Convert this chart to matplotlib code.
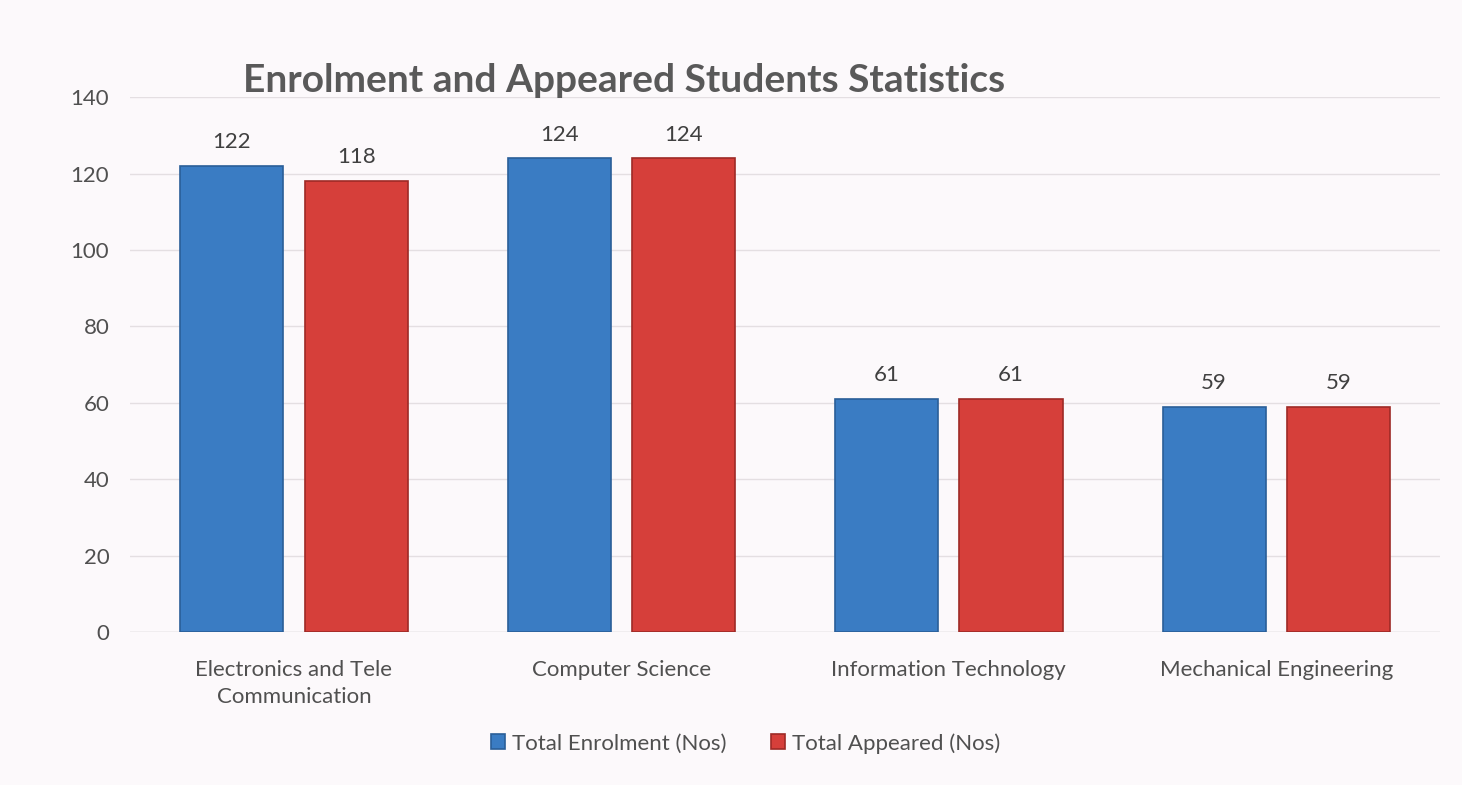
import numpy as np
import matplotlib.pyplot as plt

# Data
departments = ['Electronics and Tele\nCommunication', 'Computer Science',
               'Information Technology', 'Mechanical Engineering']
enrolment = [122, 124, 61, 59]
appeared = [118, 124, 61, 59]

plt.rcParams['font.family'] = ['Lato', 'DejaVu Sans']

fig = plt.figure(figsize=(14.62, 7.85), dpi=100, facecolor='#fcf9fb')
ax = fig.add_axes([0.089, 0.195, 0.896, 0.681])
ax.set_facecolor('#fcf9fb')

x = np.arange(len(departments))
width = 0.315
off = 0.19

b1 = ax.bar(x - off, enrolment, width, color='#3a7cc3', edgecolor='#2a5f98',
            linewidth=1.2, label='Total Enrolment (Nos)', zorder=3)
b2 = ax.bar(x + off, appeared, width, color='#d63f3a', edgecolor='#9e2a26',
            linewidth=1.2, label='Total Appeared (Nos)', zorder=3)

for bars in (b1, b2):
    ax.bar_label(bars, padding=10, fontsize=16, color='#404040')

ax.set_xlim(-0.5, len(departments) - 0.5)
ax.set_ylim(0, 140)
ax.set_yticks(range(0, 141, 20))
ax.set_xticks(x)
ax.set_xticklabels(departments, fontsize=16, color='#505050', linespacing=1.45)
ax.tick_params(axis='y', labelsize=16, labelcolor='#505050', length=0, pad=15)
ax.tick_params(axis='x', length=0, pad=20)
ax.grid(axis='y', color='#e4dfe2', linewidth=1, zorder=0)
for s in ax.spines.values():
    s.set_visible(False)
ax.axhline(0, color='#d8d4d6', linewidth=1, zorder=1)

fig.text(0.427, 0.898, 'Enrolment and Appeared Students Statistics',
         fontsize=28, fontweight='bold', color='#595959', ha='center', va='center')

fig.legend(loc='center', bbox_to_anchor=(0.51, 0.053), ncol=2, frameon=False,
           fontsize=16, handlelength=0.65, handleheight=0.65, handletextpad=0.3,
           columnspacing=2.0, labelcolor='#505050')

fig.savefig('out.png', dpi=100, facecolor=fig.get_facecolor())
